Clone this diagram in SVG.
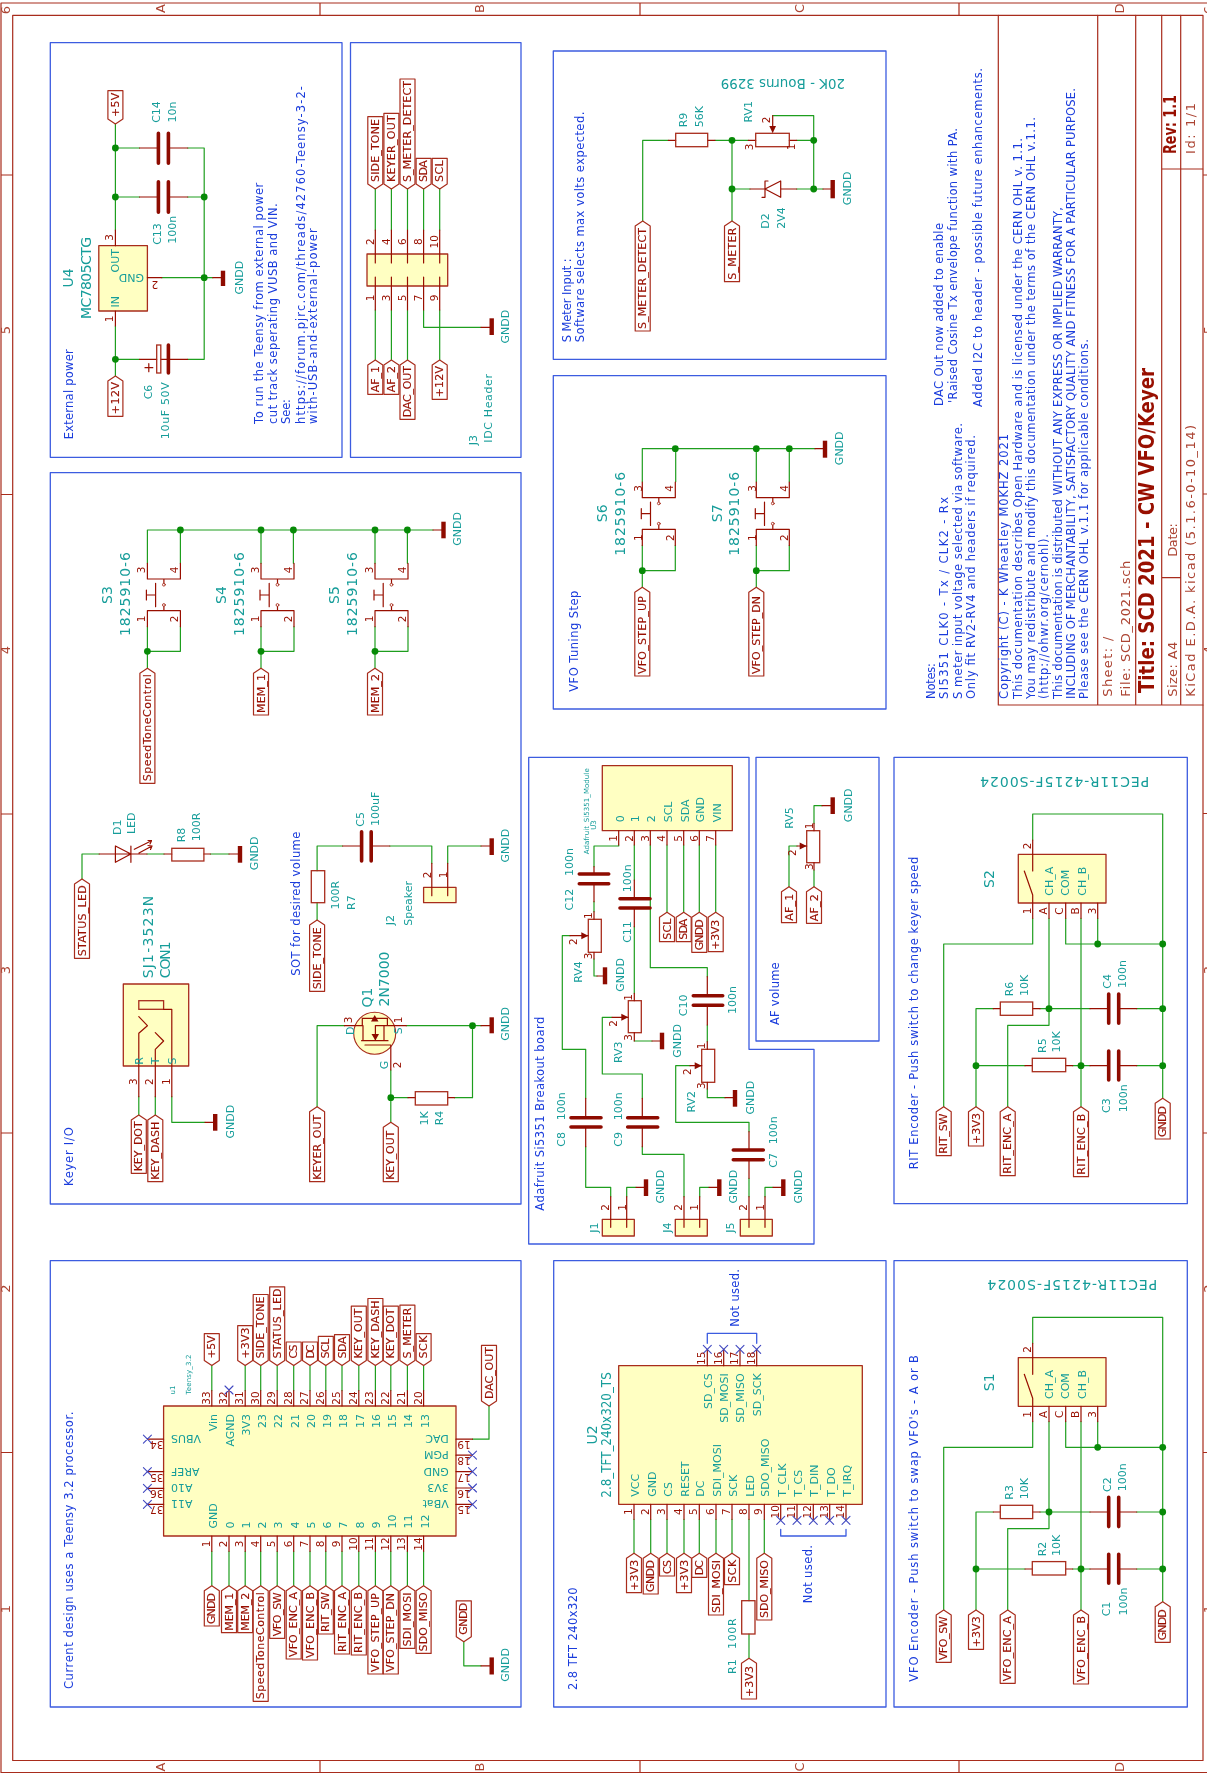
<svg xmlns="http://www.w3.org/2000/svg" xmlns:xlink="http://www.w3.org/1999/xlink" width="1207" height="1775" viewBox="0 0 1207 1775">
<style>
text{font-family:"DejaVu Sans","Liberation Sans",sans-serif}
.v{transform:rotate(-90deg)}
.v.l{transform:rotate(-90deg) translate(0,-.5px)}
.f{transform:rotate(180deg)}
.m{text-anchor:middle}
.e{text-anchor:end}
.t{fill:#169d9a;font-size:14px}
.n{fill:#169d9a;font-size:11px}
.s{fill:#169d9a;font-size:7px}
.b{fill:#1a3cdc;font-size:11.5px}
.d{fill:#980f00;font-size:10.5px}
.l{fill:#980f00;font-size:11px;stroke:#980f00;stroke-width:.15px}
.k{fill:#ac4433;font-size:13px}
.w,.p,.o,.L,.c,.bar,.fr,.bx,.nc,.ci{fill:none;stroke-linecap:round;stroke-linejoin:round}
.w{stroke:#1e9e1e;stroke-width:1.2}
.p{stroke:#980f00;stroke-width:1.2}
.o{stroke:#a82c1c;stroke-width:1.3;fill:#ffffc2}
.r{stroke:#a82c1c;stroke-width:1.3;fill:none}
.L{stroke:#a82c1c;stroke-width:1.2;fill:#fff}
.c{stroke:#8e0b00;stroke-width:3.6}
.bar{stroke:#8e0b00;stroke-width:4.4;stroke-linecap:butt}
.fr{stroke:#a82c1c;stroke-width:1.2}
.bx{stroke:#3c5ce0;stroke-width:1.3}
.nc{stroke:#4048c0;stroke-width:1.1}
.ci{stroke:#a82c1c;stroke-width:.9}
.j{fill:#078a07}
.a{fill:#8e0b00}
</style>
<defs>
<filter id="soft" x="0" y="0" width="1207" height="1775" filterUnits="userSpaceOnUse" color-interpolation-filters="sRGB"><feGaussianBlur stdDeviation="0.4"/></filter>
<path id="nc" class="nc" d="M-4-4L4 4M4-4L-4 4"/>
<g id="pb"><path class="p" d="M0 33.3V49H33V33.3M16.5 49v4M0 80.7H33M0 80.7V96.7M33 80.7V96.7M16.5 80.7v-4M8.2 53.3V76.7M8.2 65H-1M-1 60V70"/><circle class="ci" cx="16.5" cy="54.7" r="1.4"/><circle class="ci" cx="16.5" cy="75" r="1.4"/></g>
<g id="encsym"><rect class="o" x="1018.3" y="854.3" width="87.7" height="48.7"/><path class="p" d="M1032.7 840V871M1032.7 895V918.3M1024.3 871L1032.7 895M1049 903V918.3M1065.7 903V918.3M1081 903V918.3M1097.7 903V918.3M993.3 1008.7H1000.3M1032.7 1008.7H1040M1090 1008.7H1108.7M1118.7 1008.7H1136.7M1025 1065.7H1032.3M1065.7 1065.7H1072.7M1090 1065.7H1108.7M1118.7 1065.7H1136.7"/><rect class="r" x="1000.3" y="1002" width="32.4" height="13.3"/><rect class="r" x="1032.3" y="1058.3" width="33.4" height="13.4"/><path class="c" d="M1108.7 994V1023.3M1118.7 994V1023.3M1108.7 1051V1080M1118.7 1051V1080"/></g>
</defs>
<g id="sheet" filter="url(#soft)">

<g id="frame"><path class="fr" d="M1 3H1214V1772.5H1ZM12.7 15.3H1203V1760.5H12.7ZM320 3V15.3M640 3V15.3M959 3V15.3M320 1760.5V1772.5M640 1760.5V1772.5M959 1760.5V1772.5M1 175H12.7M1 494.5H12.7M1 814H12.7M1 1133H12.7M1 1452.5H12.7M1203 175H1214M1203 494H1214M1203 813.5H1214M1203 1133H1214M1203 1452.5H1214"/>
<text class="v k m" x="-8.5" y="165">A</text><text class="v k m" x="-8.5" y="484">B</text><text class="v k m" x="-8.5" y="804">C</text><text class="v k m" x="-8.5" y="1124">D</text>
<text class="v k m" x="-1767" y="165">A</text><text class="v k m" x="-1767" y="484">B</text><text class="v k m" x="-1767" y="804">C</text><text class="v k m" x="-1767" y="1124">D</text>
<text class="v k m" x="-10" y="10">6</text><text class="v k m" x="-330" y="10">5</text><text class="v k m" x="-650" y="10">4</text><text class="v k m" x="-970" y="10">3</text><text class="v k m" x="-1288.5" y="10">2</text><text class="v k m" x="-1609" y="10">1</text>
<text class="v k m" x="-10" y="1213">6</text><text class="v k m" x="-330" y="1213">5</text><text class="v k m" x="-650" y="1213">4</text><text class="v k m" x="-970" y="1213">3</text><text class="v k m" x="-1288.5" y="1213">2</text><text class="v k m" x="-1609" y="1213">1</text>
</g>

<g id="title-block"><path class="fr" d="M998.3 15.3V705H1203M1097.7 15.3V705M1135.7 15.3V705M1161.7 15.3V705M1180.7 15.3V705M1161.7 169H1202.7M1161.7 577.7H1180.7"/>
<text class="v" x="-154" y="1176" style="fill:#980f00;font-size:17px;font-weight:bold" textLength="59" lengthAdjust="spacingAndGlyphs">Rev: 1.1</text>
<text class="v k" x="-154" y="1195" textLength="51">Id: 1/1</text>
<text class="v k" x="-696.7" y="1112" textLength="60">Sheet: /</text>
<text class="v k" x="-696.7" y="1130" textLength="136">File: SCD_2021.sch</text>
<text class="v" x="-693" y="1154" style="fill:#980f00;font-size:22px;font-weight:bold" textLength="325" lengthAdjust="spacingAndGlyphs">Title: SCD 2021 - CW VFO/Keyer</text>
<text class="v k" x="-696.7" y="1176.7" textLength="55">Size: A4</text>
<text class="v k" x="-556.7" y="1176.7" textLength="33.7">Date:</text>
<text class="v k" x="-696.7" y="1195" textLength="271.7">KiCad E.D.A.  kicad (5.1.6-0-10_14)</text>
<text class="v b" x="-699" y="1008" textLength="265">Copyright (C) - K Wheatley M0KHZ 2021</text>
<text class="v b" x="-699" y="1021.7" textLength="561">This documentation describes Open Hardware and is licensed under the CERN OHL v. 1.1.</text>
<text class="v b" x="-699" y="1035" textLength="582">You may redistribute and modify this documentation under the terms of the CERN OHL v.1.1.</text>
<text class="v b" x="-699" y="1048" textLength="165">(http://ohwr.org/cernohl).</text>
<text class="v b" x="-699" y="1061.7" textLength="492">This documentation is distributed WITHOUT ANY EXPRESS OR IMPLIED WARRANTY,</text>
<text class="v b" x="-699" y="1075" textLength="611">INCLUDING OF MERCHANTABILITY, SATISFACTORY QUALITY AND FITNESS FOR A PARTICULAR PURPOSE.</text>
<text class="v b" x="-699" y="1088" textLength="360">Please see the CERN OHL v.1.1 for applicable conditions.</text>
</g>

<g id="notes">
<text class="v b" x="-699" y="935" textLength="36">Notes:</text>
<text class="v b" x="-699" y="948" textLength="202">SI5351 CLK0 - Tx / CLK2 - Rx</text>
<text class="v b" x="-699" y="961.7" textLength="276">S meter input voltage selected via software.</text>
<text class="v b" x="-699" y="975" textLength="264">Only fit RV2-RV4 and headers if required.</text>
<text class="v b" x="-406" y="943" textLength="183">DAC Out now added to enable</text>
<text class="v b" x="-403" y="956.7" textLength="275">'Raised Cosine Tx envelope function with PA.</text>
<text class="v b" x="-407" y="981.7" textLength="339">Added I2C to header - possible future enhancements.</text>
</g>

<g id="sheet-boxes"><path class="bx" d="M50.3 42.7H342V457.3H50.3ZM350.5 42.7H521V457.3H350.5ZM553.3 51H886V359.3H553.3ZM553.3 375.7H886V709H553.3ZM50.3 472.7H521V1204H50.3ZM528.7 757.3H749V1049.3H814V1244H528.7ZM756 757.3H879V1041H756ZM894 757.3H1187.3V1203.7H894ZM50.3 1260.7H521V1707H50.3ZM553.7 1260.7H886V1707H553.7ZM894 1260.7H1187.3V1707H894ZM780.7 1529.3V1536H846V1529.3M707.3 1343.3V1333.3H756.7V1343.3"/>
<text class="v b" x="-439.3" y="73.3" textLength="90">External power</text>
<text class="v b" x="-424" y="263.4" textLength="241.3">To run the Teensy from external power</text>
<text class="v b" x="-424" y="277" textLength="220.7">cut track seperating VUSB and VIN.</text>
<text class="v b" x="-424" y="290" textLength="25">See:</text>
<text class="v b" x="-424" y="304.8" textLength="338">https://forum.pjrc.com/threads/42760-Teensy-3-2-</text>
<text class="v b" x="-424" y="316.8" textLength="195.7">with-USB-and-external-power</text>
<text class="v b" x="-342.3" y="570.7" textLength="84">S Meter Input :</text>
<text class="v b" x="-342.3" y="584" textLength="230.6">Software selects max volts expected.</text>
<text class="v b" x="-691.7" y="577.7" textLength="101">VFO Tuning Step</text>
<text class="v b" x="-1186" y="73.3" textLength="58.7">Keyer I/O</text>
<text class="v b" x="-975.7" y="300.3" textLength="144">SOT for desired volume</text>
<text class="v b" x="-1210.7" y="544" textLength="194">Adafruit Si5351 Breakout board</text>
<text class="v b" x="-1025" y="779" textLength="62.7">AF volume</text>
<text class="v b" x="-1169.3" y="917.7" textLength="312.6">RIT Encoder - Push switch to change keyer speed</text>
<text class="v b" x="-1681.7" y="917.7" textLength="326.7">VFO Encoder - Push switch to swap VFO's - A or B</text>
<text class="v b" x="-1689" y="73.3" textLength="277.3">Current design uses a Teensy 3.2 processor.</text>
<text class="v b" x="-1690" y="576.7" textLength="102.7">2.8 TFT 240x320</text>
<text class="v b" x="-1603.3" y="812.3" textLength="58.3">Not used.</text>
<text class="v b" x="-1326.7" y="739" textLength="57.7">Not used.</text>
</g>

<g id="connectors">
<path class="w" d="M115.4 124V230M115.4 326V376M115.4 148H139.5M187.7 148H204.2V359.3H187.7M115.4 197H139.5M187.7 197H204.2M115.4 359.3H139.5M161.8 277.7H212.8
M375.3 189V230M391.4 189V230M407.5 189V230M423.6 189V230M439.7 189V230M375.3 310V360M391.4 310V360M407.5 310V360M439.7 310V360M423.6 310V327.3H481
M147.4 563.3V530H433M180.4 563.3V530M261 563.3V530M293.4 563.3V530M375 563.3V530M407.4 563.3V530M147.4 626.7V668.3M180.4 626.7V651.3H147.4M261 626.7V668.3M294 626.7V651.3H261M375 626.7V668.3M408 626.7V651.3H375
M99.2 854H82V879M147 854H164M210.4 854H229M342.6 846H317.1V870.7M317.1 902.7V920M389.8 846H431.8V863.3M447.7 863.3V846H481
M138.8 1096.7V1115M155.3 1096.7V1115M171.8 1096.7V1122.3H205M344.4 1025.7H317.1V1106.7M406.3 1025.7H481M472.5 1025.7V1097.7H454.5M408 1097.7H390.8M390.8 1070V1122.3
M642.7 221V140.3H668.3M715 140.3H748.3M796.7 140.3H813.7M772.7 115.7H813.7V189M732 140.3V221M732 189H750M796.7 189H823
M642.3 481.7V448.7H815M675.7 481.7V448.7M756.3 481.7V448.7M789.3 481.7V448.7M642.3 545.4V587.3M675.3 545.4V570.7H642.3M756.3 545.4V587.3M789.3 545.4V570.7H756.3
M618.7 845V846H594V866.7M594 901.7V911.7M594 959V976H597M570 935.7H562.3V1049.3H585.7V1098.3M585.7 1146.7V1187.3H610.7V1196.7M626.7 1196.7V1187.3H636M684 1196.7V1154.3H642.3V1146.7M642.3 1098.3V1074H602.3V1017.3H612M634.3 845V880M634.3 926.7V993.3M634.3 1041H652M699.7 1196.7V1187.3H709M650.3 845V967.7H707.3V976.7M707.3 1025V1041.7M707.3 1089V1097.7H725M690 1065.7H675.7V1122.3H749V1131.7M749 1178.3V1196.7M765 1196.7V1187.3H773M667 845V912.3M683.7 845V912.3M699.3 845V912.3M715.7 845V912.3
M814 823.3V805.7H822M814 870V886.7M797 846H789V886.7
M211.8 1365.5V1390.6M245.2 1365.5V1390.6M260.7 1365.5V1390.6M277.2 1365.5V1390.6M293.7 1365.5V1390.6M310 1365.5V1390.6M325.8 1365.5V1390.6M342 1365.5V1390.6M358.8 1365.5V1390.6M375.4 1365.5V1390.6M390.8 1365.5V1390.6M407.4 1365.5V1390.6M423.6 1365.5V1390.6
M211.8 1551.3V1585.8M229 1551.3V1585.8M245.2 1551.3V1585.8M260.7 1551.3V1585.8M277.2 1551.3V1585.8M293.7 1551.3V1585.8M310 1551.3V1585.8M325.8 1551.3V1585.8M342 1551.3V1585.8M358.8 1551.3V1585.8M375.4 1551.3V1585.8M390.8 1551.3V1585.8M407.4 1551.3V1585.8M423.6 1551.3V1585.8
M463.8 1641.7V1665.8H481M472.5 1439.2H489V1406
M634 1519.3V1553.3M650.7 1519.3V1553.3M667 1519.3V1553.3M684 1519.3V1553.3M699.3 1519.3V1553.3M716 1519.3V1553.3M732 1519.3V1553.3M764.3 1519.3V1553.3M749 1519.3V1600.7M749 1634V1658.3"/>
<path id="encw" class="w" d="M1032.7 840V814H1162.7V1098.3M1032.7 918.3V944H943.7V1106.7M1049 918.3V1025.3H1007.7V1106.7M1065.7 918.3V944H1162.7M1081 918.3V1106.7M1097.7 918.3V944M976 1106.7V1008.7H993.3M1040 1008.7H1090M1136.7 1008.7H1162.7M976 1065.7H1025M1072.7 1065.7H1090M1136.7 1065.7H1162.7"/>
<use href="#encw" xlink:href="#encw" y="503.3"/>
<g class="j" id="junctions">
<circle cx="115.4" cy="148" r="3.4"/><circle cx="115.4" cy="197" r="3.4"/><circle cx="204.2" cy="197" r="3.4"/><circle cx="204.2" cy="277.7" r="3.4"/><circle cx="115.4" cy="359.3" r="3.4"/>
<circle cx="180.4" cy="530" r="3.4"/><circle cx="261" cy="530" r="3.4"/><circle cx="293.4" cy="530" r="3.4"/><circle cx="375" cy="530" r="3.4"/><circle cx="407.4" cy="530" r="3.4"/><circle cx="147.4" cy="651.3" r="3.4"/><circle cx="261" cy="651.3" r="3.4"/><circle cx="375" cy="651.3" r="3.4"/>
<circle cx="472.5" cy="1025.7" r="3.4"/><circle cx="390.8" cy="1097.7" r="3.4"/>
<circle cx="732" cy="140.3" r="3.4"/><circle cx="813.7" cy="140.3" r="3.4"/><circle cx="732" cy="189" r="3.4"/><circle cx="813.7" cy="189" r="3.4"/>
<circle cx="675.3" cy="448.7" r="3.4"/><circle cx="756.3" cy="448.7" r="3.4"/><circle cx="789.3" cy="448.7" r="3.4"/><circle cx="642.3" cy="570.7" r="3.4"/><circle cx="756.3" cy="570.7" r="3.4"/>
<circle cx="1097.7" cy="944" r="3.4"/><circle cx="1162.7" cy="944" r="3.4"/><circle cx="1049" cy="1008.7" r="3.4"/><circle cx="1162.7" cy="1008.7" r="3.4"/><circle cx="976" cy="1065.7" r="3.4"/><circle cx="1081" cy="1065.7" r="3.4"/><circle cx="1162.7" cy="1065.7" r="3.4"/>
<circle cx="1097.7" cy="1447.3" r="3.4"/><circle cx="1162.7" cy="1447.3" r="3.4"/><circle cx="1049" cy="1512" r="3.4"/><circle cx="1162.7" cy="1512" r="3.4"/><circle cx="976" cy="1569" r="3.4"/><circle cx="1081" cy="1569" r="3.4"/><circle cx="1162.7" cy="1569" r="3.4"/>
</g>
</g>

<g id="U4"><rect class="o" x="98.8" y="245.7" width="48.6" height="65.3"/><path class="p" d="M115.4 230V245.7M115.4 311V326M147.4 277.7H161.8"/>
<text class="v n m" x="-260.7" y="118.8">OUT</text><text class="v n m" x="-301.7" y="118.8">IN</text><text class="f n m" x="-131.5" y="-273.5">GND</text>
<text class="v d m" x="-237.3" y="113">3</text><text class="v d m" x="-319" y="113">1</text><text class="f d m" x="-155" y="-281">2</text>
<text class="v t m" x="-278" y="73.3">U4</text><text class="v t m" x="-278" y="91" textLength="82">MC7805CTG</text></g>
<g id="GND-U4"><path class="p" d="M212.8 277.7H223"/><path class="bar" d="M223 270.7V286"/><text class="v n m" x="-277.7" y="242.8">GNDD</text></g>
<g id="C14"><path class="p" d="M139.5 148H158.4M168.4 148H187.7"/><path class="c" d="M158.4 133.3V163.3M168.4 133.3V163.3"/><text class="v n m" x="-112" y="160">C14</text><text class="v n m" x="-112" y="176.3">10n</text></g>
<g id="C13"><path class="p" d="M139.5 197H158.4M168.4 197H187.7"/><path class="c" d="M158.4 181.7V212.3M168.4 181.7V212.3"/><text class="v n m" x="-234" y="160.5">C13</text><text class="v n m" x="-229.7" y="176">100n</text></g>
<g id="C6"><path class="p" d="M139.5 359.3H156.7M160.8 359.3H187.7M148.8 363.7V371.7M145 367.7H152.8"/><rect class="r" x="156.7" y="345" width="4.1" height="28"/><path class="c" d="M168.4 345V373"/><text class="v n m" x="-392" y="151.5">C6</text><text class="v n m" x="-410.7" y="168.7" textLength="57">10uF 50V</text></g>
<g id="lbl-5V"><path class="L" d="M107.9 90.7h15V119l-7.5 5l-7.5-5z"/><text class="v l" x="-117" y="119.4" textLength="24.3">+5V</text></g>
<g id="lbl-12V"><path class="L" d="M107.9 416.3h15V381l-7.5-5l-7.5 5z"/><text class="v l" x="-414.3" y="119.4" textLength="32.3">+12V</text></g>

<g id="J3"><rect class="o" x="367" y="254" width="80.7" height="32"/><path class="p" d="M375.3 230V263M391.4 230V263M407.5 230V263M423.6 230V263M439.7 230V263M375.3 277V310M391.4 277V310M407.5 277V310M423.6 277V310M439.7 277V310M481 327.3H491.7"/><path class="bar" d="M491.7 318.3V335"/>
<text class="v d m" x="-241.7" y="373.6">2</text><text class="v d m" x="-241.7" y="389.7">4</text><text class="v d m" x="-241.7" y="405.8">6</text><text class="v d m" x="-241.7" y="421.9">8</text><text class="v d m" x="-241.7" y="438">10</text>
<text class="v d m" x="-298" y="373.6">1</text><text class="v d m" x="-298" y="389.7">3</text><text class="v d m" x="-298" y="405.8">5</text><text class="v d m" x="-298" y="421.9">7</text><text class="v d m" x="-298" y="438">9</text>
<text class="v n m" x="-440" y="477">J3</text><text class="v n" x="-442.7" y="492.4" textLength="68.7">IDC Header</text><text class="v n m" x="-326.7" y="509">GNDD</text>
<path class="L" d="M367.8 116.7h15V184l-7.5 5l-7.5-5z"/><text class="v l" x="-182" y="379.3" textLength="63">SIDE_TONE</text>
<path class="L" d="M383.9 113.3h15V184l-7.5 5l-7.5-5z"/><text class="v l" x="-182" y="395.4" textLength="66.7">KEYER_OUT</text>
<path class="L" d="M400 79h15V184l-7.5 5l-7.5-5z"/><text class="v l" x="-182" y="411.5" textLength="101">S_METER_DETECT</text>
<path class="L" d="M416.1 158.3h15V184l-7.5 5l-7.5-5z"/><text class="v l" x="-182" y="427.6" textLength="21.7">SDA</text>
<path class="L" d="M432.2 158.3h15V184l-7.5 5l-7.5-5z"/><text class="v l" x="-182" y="443.7" textLength="21.7">SCL</text>
<path class="L" d="M367.8 394.3h15V365l-7.5-5l-7.5 5z"/><text class="v l" x="-392.3" y="379.3" textLength="26.3">AF_1</text>
<path class="L" d="M383.9 394.3h15V365l-7.5-5l-7.5 5z"/><text class="v l" x="-392.3" y="395.4" textLength="26.3">AF_2</text>
<path class="L" d="M400 419.3h15V365l-7.5-5l-7.5 5z"/><text class="v l" x="-417.3" y="411.5" textLength="51.3">DAC_OUT</text>
<path class="L" d="M432.2 399.3h15V365l-7.5-5l-7.5 5z"/><text class="v l" x="-397.3" y="443.7" textLength="31.3">+12V</text></g>

<g id="S3"><use href="#pb" xlink:href="#pb" x="147.4" y="530"/><text class="v d m" x="-570" y="145">3</text><text class="v d m" x="-570" y="178">4</text><text class="v d m" x="-619" y="145">1</text><text class="v d m" x="-619" y="178">2</text><text class="v t m" x="-595" y="112">S3</text><text class="v t m" x="-594" y="130" textLength="84">1825910-6</text>
<path class="L" d="M139.9 783.3h15V673.3l-7.5-5l-7.5 5z"/><text class="v l" x="-781.3" y="151.4" textLength="107">SpeedToneControl</text></g>
<g id="S4"><use href="#pb" xlink:href="#pb" x="261" y="530"/><text class="v d m" x="-570" y="258.6">3</text><text class="v d m" x="-570" y="291.6">4</text><text class="v d m" x="-619" y="258.6">1</text><text class="v d m" x="-619" y="291.6">2</text><text class="v t m" x="-595" y="225.5">S4</text><text class="v t m" x="-594" y="243.8" textLength="84">1825910-6</text>
<path class="L" d="M253.5 715h15V673.3l-7.5-5l-7.5 5z"/><text class="v l" x="-713" y="265" textLength="39">MEM_1</text></g>
<g id="S5"><use href="#pb" xlink:href="#pb" x="375" y="530"/><text class="v d m" x="-570" y="372.6">3</text><text class="v d m" x="-570" y="405.6">4</text><text class="v d m" x="-619" y="372.6">1</text><text class="v d m" x="-619" y="405.6">2</text><text class="v t m" x="-595" y="339">S5</text><text class="v t m" x="-594" y="357.4" textLength="84">1825910-6</text>
<path class="L" d="M367.5 715h15V673.3l-7.5-5l-7.5 5z"/><text class="v l" x="-713" y="379" textLength="39">MEM_2</text></g>
<g id="GND-S"><path class="p" d="M433 530H443.5"/><path class="bar" d="M443.5 521.7V538.3"/><text class="v n m" x="-529" y="460.7">GNDD</text></g>

<g id="D1"><path class="p" d="M99.2 854H147M130.9 846V862.3M115.4 846V862.3L130.9 854L115.4 846M134.3 849.3L151.5 840.7M148 840.5L151.5 840.7L150 844M139 853L152 846M148 845.5L152 846L150.5 849.5"/><text class="v n m" x="-827.3" y="121.2">D1</text><text class="v n m" x="-823.3" y="135">LED</text><path class="L" d="M74.5 958.3h15V884l-7.5-5l-7.5 5z"/><text class="v l" x="-956.3" y="86" textLength="71">STATUS_LED</text></g>
<g id="R8"><path class="p" d="M164 854H171.8M203.9 854H210.4"/><rect class="r" x="171.8" y="848.3" width="32.1" height="12.7"/><text class="v n m" x="-835" y="185">R8</text><text class="v n m" x="-827" y="200.4">100R</text></g>
<g id="GND-D1"><path class="p" d="M229 854H240"/><path class="bar" d="M240 846V862.7"/><text class="v n m" x="-853.3" y="258.3">GNDD</text></g>

<g id="CON1"><rect class="o" x="123.3" y="984" width="65.4" height="82"/><rect class="r" x="138.8" y="1000.7" width="24.8" height="8.6"/><path class="p" d="M163.6 1009.3H171.8V1096.7M138.8 1016.7L147.4 1025.7L138.8 1033.3V1096.7M155.3 1032.7L163.6 1041L155.3 1049.3V1096.7M205 1122.3H215.2"/><path class="bar" d="M215.2 1114V1130.7"/>
<text class="v n m" x="-1061" y="142.6">R</text><text class="v n m" x="-1061" y="158.7">T</text><text class="v n m" x="-1061" y="175.6">S</text><text class="v d m" x="-1081.7" y="137">3</text><text class="v d m" x="-1081.7" y="153">2</text><text class="v d m" x="-1081.7" y="170">1</text>
<text class="v t" x="-978.3" y="152.5" textLength="82.6">SJ1-3523N</text><text class="v t" x="-978.3" y="169.8" textLength="37">CON1</text><text class="v n m" x="-1121.7" y="233.5">GNDD</text>
<path class="L" d="M131.3 1173.3h15V1120l-7.5-5l-7.5 5z"/><text class="v l" x="-1171.3" y="142.8" textLength="50">KEY_DOT</text>
<path class="L" d="M147.8 1181.7h15V1120l-7.5-5l-7.5 5z"/><text class="v l" x="-1179.7" y="159.3" textLength="58">KEY_DASH</text></g>

<g id="C5"><path class="p" d="M342.6 846H361.6M371.2 846H389.8"/><path class="c" d="M361.6 831.7V861M371.2 831.7V861"/><text class="v n m" x="-819.3" y="364.3">C5</text><text class="v n m" x="-808.8" y="378.8">100uF</text></g>
<g id="R7"><rect class="r" x="311.3" y="870.7" width="13.4" height="32"/><text class="v n m" x="-895.3" y="338.5">100R</text><text class="v n m" x="-902.7" y="354.7">R7</text><path class="L" d="M309.6 991.3h15V925l-7.5-5l-7.5 5z"/><text class="v l" x="-989.3" y="321.1" textLength="62">SIDE_TONE</text></g>
<g id="J2"><rect class="o" x="423.6" y="887.3" width="32.4" height="15.4"/><path class="p" d="M431.8 863.3V895.7M447.7 863.3V895.7M481 846H491.7"/><path class="bar" d="M491.7 838.3V855"/><text class="v d m" x="-875" y="430.5">2</text><text class="v d m" x="-875" y="446.6">1</text><text class="v n m" x="-920" y="394.3">J2</text><text class="v n m" x="-903.3" y="411.5">Speaker</text><text class="v n m" x="-845.7" y="509">GNDD</text></g>
<g id="Q1"><circle cx="374.7" cy="1033.3" r="21" fill="#ffffc2" stroke="#a82c1c" stroke-width="1.1"/><path class="p" d="M344.4 1025.7H363V1040.7M361.6 1040.7H388M384 1040.7V1025.7H406.3M362.3 1025.7V1018.3H387.4V1025.7M375.4 1025.7H387.4M375.4 1025.7V1040.7M365 1045H390.8V1070M390.8 1045V1070"/><path class="a" d="M371 1021.5L378.5 1021.5L374.7 1015ZM371.5 1034H379L375.4 1040.5Z"/>
<text class="v n m" x="-1065" y="388.4">G</text><text class="v d m" x="-1065" y="400.5">2</text><text class="v d m" x="-1020" y="352">3</text><text class="v n m" x="-1030.7" y="353.6">D</text><text class="v d m" x="-1020" y="401.5">1</text><text class="v n m" x="-1030.7" y="401.5">S</text>
<text class="v t m" x="-997.5" y="372">Q1</text><text class="v t m" x="-979" y="389" textLength="55">2N7000</text>
<path class="p" d="M481 1025.7H491.7"/><path class="bar" d="M491.7 1017.3V1033.3"/><text class="v n m" x="-1024" y="509">GNDD</text>
<path class="L" d="M309.6 1181.7h15V1111.7l-7.5-5l-7.5 5z"/><text class="v l" x="-1179.7" y="321.1" textLength="65">KEYER_OUT</text>
<path class="L" d="M383.3 1181.7h15V1127.3l-7.5-5l-7.5 5z"/><text class="v l" x="-1179.7" y="394.8" textLength="49">KEY_OUT</text></g>
<g id="R4"><path class="p" d="M408 1097.7H415.3M447.7 1097.7H454.5"/><rect class="r" x="415.3" y="1091.7" width="32.4" height="13.3"/><text class="v n m" x="-1118.3" y="428">1K</text><text class="v n m" x="-1118" y="443">R4</text></g>

<g id="R9"><path class="p" d="M668.3 140.3H675.7M707.7 140.3H715"/><rect class="r" x="675.7" y="133.3" width="32" height="13.4"/><text class="v n m" x="-120" y="687.3">R9</text><text class="v n m" x="-116.7" y="702.7">56K</text></g>
<g id="RV1"><path class="p" d="M748.3 140.3H755.7M789.3 140.3H796.7M772.7 115.7V128"/><rect class="r" x="755.7" y="133.3" width="33.6" height="13.4"/><path class="a" d="M769.3 126H776L772.7 133.3Z"/><text class="v n m" x="-111.7" y="751.7">RV1</text><text class="v d m" x="-120" y="770">2</text><text class="v d m" x="-147" y="753">3</text><text class="v d m" x="-147" y="795">1</text>
<text class="f t" x="-845" y="-79.3" textLength="124.3" lengthAdjust="spacingAndGlyphs">20K - Bourns 3299</text></g>
<g id="D2"><path class="p" d="M750 189H765M780.7 189H796.7M780.7 181V197.3L765 189ZM765 181V197.3M765 181H768M765 197.3H762M823 189H832.7"/><path class="bar" d="M832.7 180V198.3"/><text class="v n m" x="-221" y="769.3">D2</text><text class="v n m" x="-218" y="785">2V4</text><text class="v n m" x="-188.3" y="851">GNDD</text>
<path class="L" d="M635.2 331h15V226l-7.5-5l-7.5 5z"/><text class="v l" x="-329" y="646.7" textLength="101">S_METER_DETECT</text>
<path class="L" d="M724.5 281.7h15V226l-7.5-5l-7.5 5z"/><text class="v l" x="-279.7" y="736" textLength="52">S_METER</text></g>

<g id="S6"><use href="#pb" xlink:href="#pb" x="642.3" y="448.7"/><text class="v d m" x="-488.3" y="641.7">3</text><text class="v d m" x="-488.3" y="673.3">4</text><text class="v d m" x="-537.7" y="641.7">1</text><text class="v d m" x="-537.7" y="674">2</text><text class="v t m" x="-513.3" y="607.3">S6</text><text class="v t m" x="-513.8" y="625" textLength="84">1825910-6</text>
<path class="L" d="M634.8 676h15V592.3l-7.5-5l-7.5 5z"/><text class="v l" x="-674" y="646.3" textLength="78">VFO_STEP_UP</text></g>
<g id="S7"><use href="#pb" xlink:href="#pb" x="756.3" y="448.7"/><text class="v d m" x="-488.3" y="755.7">3</text><text class="v d m" x="-488.3" y="788">4</text><text class="v d m" x="-537.7" y="755.7">1</text><text class="v d m" x="-537.7" y="788">2</text><text class="v t m" x="-513.3" y="721.7">S7</text><text class="v t m" x="-513.8" y="739.3" textLength="84">1825910-6</text>
<path class="L" d="M748.8 676h15V592.3l-7.5-5l-7.5 5z"/><text class="v l" x="-674" y="760.3" textLength="78">VFO_STEP_DN</text></g>
<g id="GND-S6"><path class="p" d="M815 448.7H825"/><path class="bar" d="M825 440.7V457.7"/><text class="v n m" x="-448.3" y="842.7">GNDD</text></g>

<g id="U3"><rect class="o" x="602.3" y="765.7" width="130" height="65"/><path class="p" d="M618.7 830.7V845M634.3 830.7V845M650.3 830.7V845M667 830.7V845M683.7 830.7V845M699.3 830.7V845M715.7 830.7V845"/>
<text class="v n" x="-822.3" y="623.7">0</text><text class="v n" x="-822.3" y="639.3">1</text><text class="v n" x="-822.3" y="655.3">2</text><text class="v n" x="-822.3" y="672">SCL</text><text class="v n" x="-822.3" y="688.7">SDA</text><text class="v n" x="-822.3" y="704.3">GND</text><text class="v n" x="-822.3" y="720.7">VIN</text>
<text class="v d m" x="-838.3" y="617">1</text><text class="v d m" x="-838.3" y="632.6">2</text><text class="v d m" x="-838.3" y="648.6">3</text><text class="v d m" x="-838.3" y="665.3">4</text><text class="v d m" x="-838.3" y="682">5</text><text class="v d m" x="-838.3" y="697.6">6</text><text class="v d m" x="-838.3" y="714">7</text>
<text class="v s" x="-854.3" y="589" textLength="86">Adafruit_Si5351_Module</text><text class="v s m" x="-825" y="596">U3</text>
<path class="L" d="M659.5 941.7h15V917.3l-7.5-5l-7.5 5z"/><text class="v l" x="-939.7" y="671" textLength="21">SCL</text>
<path class="L" d="M676.2 941.7h15V917.3l-7.5-5l-7.5 5z"/><text class="v l" x="-939.7" y="687.7" textLength="21">SDA</text>
<path class="L" d="M691.8 952.3h15V917.3l-7.5-5l-7.5 5z"/><text class="v l" x="-950.3" y="703.3" textLength="31">GNDD</text>
<path class="L" d="M708.2 951.7h15V917.3l-7.5-5l-7.5 5z"/><text class="v l" x="-949.7" y="719.7" textLength="30">+3V3</text></g>
<g id="C12"><path class="p" d="M594 866.7V874M594 883.7V901.7"/><path class="c" d="M579.3 874H608.7M579.3 883.7H608.7"/><text class="v n m" x="-899.7" y="573">C12</text><text class="v n m" x="-862" y="573">100n</text></g>
<g id="RV4"><rect class="r" x="588.3" y="919.3" width="13" height="33"/><path class="p" d="M594 911.7V919.3M594 952.3V959M570 935.7H588M597 976H605"/><path class="a" d="M588.3 935.7L581.3 932.2V939.2Z"/><path class="bar" d="M605 967.3V984.3"/><text class="v n m" x="-972" y="581.7">RV4</text><text class="v d m" x="-941.7" y="576.7">2</text><text class="v d m" x="-915.7" y="591.7">1</text><text class="v d m" x="-956" y="591.7">3</text><text class="v n m" x="-975" y="624">GNDD</text></g>
<g id="C11"><path class="p" d="M634.3 880V898.7M634.3 908V926.7"/><path class="c" d="M620 898.7H650M620 908H650"/><text class="v n m" x="-932" y="630.7">C11</text><text class="v n m" x="-878.3" y="630.7">100n</text></g>
<g id="RV3"><rect class="r" x="628.3" y="1000.7" width="13" height="32"/><path class="p" d="M634.3 993.3V1000.7M634.3 1032.7V1041M612 1017.3H628M652 1041H662"/><path class="a" d="M628.3 1017.3L621.3 1013.8V1020.8Z"/><path class="bar" d="M662 1032.7V1049.3"/><text class="v n m" x="-1052.3" y="621.7">RV3</text><text class="v d m" x="-1023.3" y="616.7">2</text><text class="v d m" x="-997.3" y="631.7">1</text><text class="v d m" x="-1037.3" y="631.7">3</text><text class="v n m" x="-1041" y="680.7">GNDD</text></g>
<g id="C10"><path class="p" d="M707.3 976.7V995.7M707.3 1005.3V1025"/><path class="c" d="M693.3 995.7H722.7M693.3 1005.3H722.7"/><text class="v n m" x="-1005.3" y="686.7">C10</text><text class="v n m" x="-1000" y="736">100n</text></g>
<g id="RV2"><rect class="r" x="701.7" y="1049.3" width="13" height="33"/><path class="p" d="M707.3 1041.7V1049.3M707.3 1082.3V1089M690 1065.7H701.7M725 1097.7H735"/><path class="a" d="M701.7 1065.7L694.7 1062.2V1069.2Z"/><path class="bar" d="M735 1090V1106.7"/><text class="v n m" x="-1101.7" y="695">RV2</text><text class="v d m" x="-1071.7" y="690.7">2</text><text class="v d m" x="-1046" y="705">1</text><text class="v d m" x="-1085.7" y="705">3</text><text class="v n m" x="-1097.7" y="754.3">GNDD</text></g>
<g id="C8"><path class="p" d="M585.7 1098.3V1117.7M585.7 1127V1146.7"/><path class="c" d="M571 1117.7H601M571 1127H601"/><text class="v n m" x="-1139.3" y="565">C8</text><text class="v n m" x="-1106.3" y="565">100n</text></g>
<g id="C9"><path class="p" d="M642.3 1098.3V1117.7M642.3 1127V1146.7"/><path class="c" d="M627.7 1117.7H657.7M627.7 1127H657.7"/><text class="v n m" x="-1139.3" y="621.7">C9</text><text class="v n m" x="-1106.3" y="621.7">100n</text></g>
<g id="C7"><path class="p" d="M749 1131.7V1150M749 1159.7V1178.3"/><path class="c" d="M733.3 1150H763.3M733.3 1159.7H763.3"/><text class="v n m" x="-1160.3" y="777.3">C7</text><text class="v n m" x="-1130.3" y="777.3">100n</text></g>
<g id="J1"><rect class="o" x="602.3" y="1219.3" width="32" height="16.7"/><path class="p" d="M610.7 1196.7V1227.3M626.7 1196.7V1227.3M636 1187.3H646"/><path class="bar" d="M646 1179.3V1196"/><text class="v d m" x="-1207.3" y="609.3">2</text><text class="v d m" x="-1207.3" y="626">1</text><text class="v n m" x="-1227.7" y="598.3">J1</text><text class="v n m" x="-1186.7" y="664.3">GNDD</text></g>
<g id="J4"><rect class="o" x="675.3" y="1219.3" width="32" height="16.7"/><path class="p" d="M684 1196.7V1227.3M699.7 1196.7V1227.3M709 1187.3H719.3"/><path class="bar" d="M719.3 1179.3V1196"/><text class="v d m" x="-1207.3" y="681.7">2</text><text class="v d m" x="-1207.3" y="698.3">1</text><text class="v n m" x="-1227.7" y="670.7">J4</text><text class="v n m" x="-1186.7" y="737.3">GNDD</text></g>
<g id="J5"><rect class="o" x="740.3" y="1219.3" width="32" height="16.7"/><path class="p" d="M749 1196.7V1227.3M765 1196.7V1227.3M773 1187.3H783.3"/><path class="bar" d="M783.3 1179.3V1196"/><text class="v d m" x="-1207.3" y="746.7">2</text><text class="v d m" x="-1207.3" y="764">1</text><text class="v n m" x="-1227.7" y="734">J5</text><text class="v n m" x="-1186.7" y="802.3">GNDD</text></g>

<g id="RV5"><rect class="r" x="806.7" y="830.7" width="13" height="32"/><path class="p" d="M814 823.3V830.7M814 862.7V870M797 846H806.7M822 805.7H832.7"/><path class="a" d="M806.7 846L799.7 842.5V849.5Z"/><path class="bar" d="M832.7 797.3V814"/><text class="v d m" x="-826" y="812.7">1</text><text class="v d m" x="-866.7" y="812.7">3</text><text class="v d m" x="-852.7" y="796">2</text><text class="v n m" x="-818" y="793.3">RV5</text><text class="v n m" x="-805.3" y="851.7">GNDD</text>
<path class="L" d="M781.5 922.7h15V891.7l-7.5-5l-7.5 5z"/><text class="v l" x="-920.7" y="793" textLength="27">AF_1</text>
<path class="L" d="M806.5 923.3h15V891.7l-7.5-5l-7.5 5z"/><text class="v l" x="-921.3" y="818" textLength="27">AF_2</text></g>

<g id="U1"><rect class="o" x="163.6" y="1406" width="292.4" height="130"/>
<path class="p" d="M211.8 1390.6V1406M229 1390V1406M245.2 1390.6V1406M260.7 1390.6V1406M277.2 1390.6V1406M293.7 1390.6V1406M310 1390.6V1406M325.8 1390.6V1406M342 1390.6V1406M358.8 1390.6V1406M375.4 1390.6V1406M390.8 1390.6V1406M407.4 1390.6V1406M423.6 1390.6V1406
M211.8 1536V1551.3M229 1536V1551.3M245.2 1536V1551.3M260.7 1536V1551.3M277.2 1536V1551.3M293.7 1536V1551.3M310 1536V1551.3M325.8 1536V1551.3M342 1536V1551.3M358.8 1536V1551.3M375.4 1536V1551.3M390.8 1536V1551.3M407.4 1536V1551.3M423.6 1536V1551.3
M147.4 1439.2H163.6M147.4 1471.6H163.6M147.4 1488.4H163.6M147.4 1504.4H163.6M456 1439.2H472.5M456 1455.2H472.5M456 1471.6H472.5M456 1488H472.5M456 1504.4H472.5"/>
<use href="#nc" xlink:href="#nc" x="229" y="1390"/><use href="#nc" xlink:href="#nc" x="147.4" y="1439.2"/><use href="#nc" xlink:href="#nc" x="147.4" y="1471.6"/><use href="#nc" xlink:href="#nc" x="147.4" y="1488.4"/><use href="#nc" xlink:href="#nc" x="147.4" y="1504.4"/><use href="#nc" xlink:href="#nc" x="472.5" y="1455.2"/><use href="#nc" xlink:href="#nc" x="472.5" y="1471.6"/><use href="#nc" xlink:href="#nc" x="472.5" y="1488"/><use href="#nc" xlink:href="#nc" x="472.5" y="1504.4"/>
<g><text class="v n e" x="-1414" y="216.8">Vin</text><text class="v n e" x="-1414" y="234">AGND</text><text class="v n e" x="-1414" y="250.2">3V3</text><text class="v n e" x="-1414" y="265.7">23</text><text class="v n e" x="-1414" y="282.2">22</text><text class="v n e" x="-1414" y="298.7">21</text><text class="v n e" x="-1414" y="315">20</text><text class="v n e" x="-1414" y="330.8">19</text><text class="v n e" x="-1414" y="347">18</text><text class="v n e" x="-1414" y="363.8">17</text><text class="v n e" x="-1414" y="380.4">16</text><text class="v n e" x="-1414" y="395.8">15</text><text class="v n e" x="-1414" y="412.4">14</text><text class="v n e" x="-1414" y="428.6">13</text></g>
<g><text class="v n" x="-1528.5" y="216.8">GND</text><text class="v n" x="-1528.5" y="234">0</text><text class="v n" x="-1528.5" y="250.2">1</text><text class="v n" x="-1528.5" y="265.7">2</text><text class="v n" x="-1528.5" y="282.2">3</text><text class="v n" x="-1528.5" y="298.7">4</text><text class="v n" x="-1528.5" y="315">5</text><text class="v n" x="-1528.5" y="330.8">6</text><text class="v n" x="-1528.5" y="347">7</text><text class="v n" x="-1528.5" y="363.8">8</text><text class="v n" x="-1528.5" y="380.4">9</text><text class="v n" x="-1528.5" y="395.8">10</text><text class="v n" x="-1528.5" y="412.4">11</text><text class="v n" x="-1528.5" y="428.6">12</text></g>
<g><text class="v d m" x="-1398" y="210">33</text><text class="v d m" x="-1398" y="227">32</text><text class="v d m" x="-1398" y="243.2">31</text><text class="v d m" x="-1398" y="258.7">30</text><text class="v d m" x="-1398" y="275.2">29</text><text class="v d m" x="-1398" y="291.7">28</text><text class="v d m" x="-1398" y="308">27</text><text class="v d m" x="-1398" y="323.8">26</text><text class="v d m" x="-1398" y="340">25</text><text class="v d m" x="-1398" y="356.8">24</text><text class="v d m" x="-1398" y="373.4">23</text><text class="v d m" x="-1398" y="388.8">22</text><text class="v d m" x="-1398" y="405.4">21</text><text class="v d m" x="-1398" y="421.6">20</text></g>
<g><text class="v d m" x="-1544" y="210">1</text><text class="v d m" x="-1544" y="227">2</text><text class="v d m" x="-1544" y="243.2">3</text><text class="v d m" x="-1544" y="258.7">4</text><text class="v d m" x="-1544" y="275.2">5</text><text class="v d m" x="-1544" y="291.7">6</text><text class="v d m" x="-1544" y="308">7</text><text class="v d m" x="-1544" y="323.8">8</text><text class="v d m" x="-1544" y="340">9</text><text class="v d m" x="-1544" y="356.8">10</text><text class="v d m" x="-1544" y="373.4">11</text><text class="v d m" x="-1544" y="388.8">12</text><text class="v d m" x="-1544" y="405.4">13</text><text class="v d m" x="-1544" y="421.6">14</text></g>
<text class="f n e" x="-171" y="-1435.2">VBUS</text><text class="f n e" x="-171" y="-1467.6">AREF</text><text class="f n e" x="-171" y="-1484.4">A10</text><text class="f n e" x="-171" y="-1500.4">A11</text>
<text class="f n" x="-448.7" y="-1435.2">DAC</text><text class="f n" x="-448.7" y="-1451.2">PGM</text><text class="f n" x="-448.7" y="-1467.6">GND</text><text class="f n" x="-448.7" y="-1484">3V3</text><text class="f n" x="-448.7" y="-1500.4">VBat</text>
<text class="f d m" x="-156.7" y="-1441.2">34</text><text class="f d m" x="-156.7" y="-1473.6">35</text><text class="f d m" x="-156.7" y="-1490.4">36</text><text class="f d m" x="-156.7" y="-1506.4">37</text>
<text class="f d m" x="-464" y="-1441.2">19</text><text class="f d m" x="-464" y="-1457.2">18</text><text class="f d m" x="-464" y="-1473.6">17</text><text class="f d m" x="-464" y="-1490">16</text><text class="f d m" x="-464" y="-1506.4">15</text>
<text class="v s m" x="-1390" y="175">u1</text><text class="v s m" x="-1374.5" y="191" textLength="40">Teensy_3.2</text>
</g>
<g id="U1-labels-top">
<path class="L" d="M204.3 1333.7h15V1360.5l-7.5 5l-7.5-5z"/><text class="v l" x="-1358.5" y="215.8" textLength="23">+5V</text>
<path class="L" d="M237.7 1325.7h15V1360.5l-7.5 5l-7.5-5z"/><text class="v l" x="-1358.5" y="249.2" textLength="31">+3V3</text>
<path class="L" d="M253.2 1294.5h15V1360.5l-7.5 5l-7.5-5z"/><text class="v l" x="-1358.5" y="264.7" textLength="62">SIDE_TONE</text>
<path class="L" d="M269.7 1286.8h15V1360.5l-7.5 5l-7.5-5z"/><text class="v l" x="-1358.5" y="281.2" textLength="70">STATUS_LED</text>
<path class="L" d="M286.2 1342h15V1360.5l-7.5 5l-7.5-5z"/><text class="v l" x="-1358.5" y="297.7" textLength="14">CS</text>
<path class="L" d="M302.5 1342h15V1360.5l-7.5 5l-7.5-5z"/><text class="v l" x="-1358.5" y="314" textLength="14">DC</text>
<path class="L" d="M318.3 1336.4h15V1360.5l-7.5 5l-7.5-5z"/><text class="v l" x="-1358.5" y="329.8" textLength="20">SCL</text>
<path class="L" d="M334.5 1334.7h15V1360.5l-7.5 5l-7.5-5z"/><text class="v l" x="-1358.5" y="346" textLength="22">SDA</text>
<path class="L" d="M351.3 1306.2h15V1360.5l-7.5 5l-7.5-5z"/><text class="v l" x="-1358.5" y="362.8" textLength="50">KEY_OUT</text>
<path class="L" d="M367.9 1298.5h15V1360.5l-7.5 5l-7.5-5z"/><text class="v l" x="-1358.5" y="379.4" textLength="58">KEY_DASH</text>
<path class="L" d="M383.3 1306.2h15V1360.5l-7.5 5l-7.5-5z"/><text class="v l" x="-1358.5" y="394.8" textLength="50">KEY_DOT</text>
<path class="L" d="M399.9 1305.2h15V1360.5l-7.5 5l-7.5-5z"/><text class="v l" x="-1358.5" y="411.4" textLength="51">S_METER</text>
<path class="L" d="M416.1 1333.7h15V1360.5l-7.5 5l-7.5-5z"/><text class="v l" x="-1358.5" y="427.6" textLength="23">SCK</text>
<path class="L" d="M481.5 1345.4h15V1401l-7.5 5l-7.5-5z"/><text class="v l" x="-1399" y="493" textLength="52">DAC_OUT</text>
<path class="L" d="M456.3 1600.8h15V1636.7l-7.5 5l-7.5-5z"/><text class="v l" x="-1634.7" y="467.8" textLength="32">GNDD</text>
</g>
<g id="U1-labels-bottom">
<path class="L" d="M204.3 1626h15V1590.8l-7.5-5l-7.5 5z"/><text class="v l" x="-1624" y="215.8" textLength="31">GNDD</text>
<path class="L" d="M221.5 1632.7h15V1590.8l-7.5-5l-7.5 5z"/><text class="v l" x="-1630.7" y="233" textLength="38">MEM_1</text>
<path class="L" d="M237.7 1632.7h15V1590.8l-7.5-5l-7.5 5z"/><text class="v l" x="-1630.7" y="249.2" textLength="38">MEM_2</text>
<path class="L" d="M253.2 1701.3h15V1590.8l-7.5-5l-7.5 5z"/><text class="v l" x="-1699.3" y="264.7" textLength="107">SpeedToneControl</text>
<path class="L" d="M269.7 1638.3h15V1590.8l-7.5-5l-7.5 5z"/><text class="v l" x="-1636.3" y="281.2" textLength="44">VFO_SW</text>
<path class="L" d="M286.2 1659h15V1590.8l-7.5-5l-7.5 5z"/><text class="v l" x="-1657" y="297.7" textLength="65">VFO_ENC_A</text>
<path class="L" d="M302.5 1660h15V1590.8l-7.5-5l-7.5 5z"/><text class="v l" x="-1658" y="314" textLength="66">VFO_ENC_B</text>
<path class="L" d="M318.3 1634h15V1590.8l-7.5-5l-7.5 5z"/><text class="v l" x="-1632" y="329.8" textLength="40">RIT_SW</text>
<path class="L" d="M334.5 1654h15V1590.8l-7.5-5l-7.5 5z"/><text class="v l" x="-1652" y="346" textLength="60">RIT_ENC_A</text>
<path class="L" d="M351.3 1655h15V1590.8l-7.5-5l-7.5 5z"/><text class="v l" x="-1653" y="362.8" textLength="61">RIT_ENC_B</text>
<path class="L" d="M367.9 1674h15V1590.8l-7.5-5l-7.5 5z"/><text class="v l" x="-1672" y="379.4" textLength="79">VFO_STEP_UP</text>
<path class="L" d="M383.3 1674h15V1590.8l-7.5-5l-7.5 5z"/><text class="v l" x="-1672" y="394.8" textLength="79">VFO_STEP_DN</text>
<path class="L" d="M399.9 1648.4h15V1590.8l-7.5-5l-7.5 5z"/><text class="v l" x="-1646.4" y="411.4" textLength="54">SDI_MOSI</text>
<path class="L" d="M416.1 1653.4h15V1590.8l-7.5-5l-7.5 5z"/><text class="v l" x="-1651.4" y="427.6" textLength="59">SDO_MISO</text>
</g>
<g id="GND-U1"><path class="p" d="M481 1665.8H491.7"/><path class="bar" d="M491.7 1657.4V1674.5"/><text class="v n m" x="-1665" y="509">GNDD</text></g>

<g id="U2"><rect class="o" x="618.7" y="1365.7" width="243.6" height="138.6"/>
<path class="p" d="M634 1504.3V1519.3M650.7 1504.3V1519.3M667 1504.3V1519.3M684 1504.3V1519.3M699.3 1504.3V1519.3M716 1504.3V1519.3M732 1504.3V1519.3M749 1504.3V1519.3M764.3 1504.3V1519.3M780.7 1504.3V1520M797 1504.3V1520M813.3 1504.3V1520M829.7 1504.3V1520M846 1504.3V1520M707.3 1349.3V1365.7M723.7 1349.3V1365.7M740 1349.3V1365.7M756.7 1349.3V1365.7"/>
<use href="#nc" xlink:href="#nc" x="780.7" y="1520.3"/><use href="#nc" xlink:href="#nc" x="797" y="1520.3"/><use href="#nc" xlink:href="#nc" x="813.3" y="1520.3"/><use href="#nc" xlink:href="#nc" x="829.7" y="1520.3"/><use href="#nc" xlink:href="#nc" x="846" y="1520.3"/><use href="#nc" xlink:href="#nc" x="707.3" y="1349.3"/><use href="#nc" xlink:href="#nc" x="723.7" y="1349.3"/><use href="#nc" xlink:href="#nc" x="740" y="1349.3"/><use href="#nc" xlink:href="#nc" x="756.7" y="1349.3"/>
<text class="v n" x="-1496.7" y="639">VCC</text><text class="v n" x="-1496.7" y="655.7">GND</text><text class="v n" x="-1496.7" y="672">CS</text><text class="v n" x="-1496.7" y="689">RESET</text><text class="v n" x="-1496.7" y="704.3">DC</text><text class="v n" x="-1496.7" y="721">SDI_MOSI</text><text class="v n" x="-1496.7" y="737">SCK</text><text class="v n" x="-1496.7" y="754">LED</text><text class="v n" x="-1496.7" y="769.3">SDO_MISO</text><text class="v n" x="-1496.7" y="785.7">T_CLK</text><text class="v n" x="-1496.7" y="802">T_CS</text><text class="v n" x="-1496.7" y="818.3">T_DIN</text><text class="v n" x="-1496.7" y="834.7">T_DO</text><text class="v n" x="-1496.7" y="851">T_IRQ</text>
<text class="v n e" x="-1373.3" y="711.7">SD_CS</text><text class="v n e" x="-1373.3" y="728.1">SD_MOSI</text><text class="v n e" x="-1373.3" y="744.4">SD_MISO</text><text class="v n e" x="-1373.3" y="761.1">SD_SCK</text>
<text class="v d m" x="-1511.7" y="632">1</text><text class="v d m" x="-1511.7" y="648.7">2</text><text class="v d m" x="-1511.7" y="665">3</text><text class="v d m" x="-1511.7" y="682">4</text><text class="v d m" x="-1511.7" y="697.3">5</text><text class="v d m" x="-1511.7" y="714">6</text><text class="v d m" x="-1511.7" y="730">7</text><text class="v d m" x="-1511.7" y="747">8</text><text class="v d m" x="-1511.7" y="762.3">9</text><text class="v d m" x="-1511.7" y="778.7">10</text><text class="v d m" x="-1511.7" y="795">11</text><text class="v d m" x="-1511.7" y="811.3">12</text><text class="v d m" x="-1511.7" y="827.7">13</text><text class="v d m" x="-1511.7" y="844">14</text>
<text class="v d m" x="-1358.3" y="705.3">15</text><text class="v d m" x="-1358.3" y="721.7">16</text><text class="v d m" x="-1358.3" y="738">17</text><text class="v d m" x="-1358.3" y="754.7">18</text>
<text class="v t m" x="-1435" y="596.7">U2</text><text class="v t" x="-1497.7" y="611" textLength="125.4" lengthAdjust="spacingAndGlyphs">2.8_TFT_240x320_TS</text>
<path class="L" d="M626.5 1592.7h15V1558.3l-7.5-5l-7.5 5z"/><text class="v l" x="-1590.7" y="638" textLength="31">+3V3</text>
<path class="L" d="M643.2 1594h15V1558.3l-7.5-5l-7.5 5z"/><text class="v l" x="-1592" y="654.7" textLength="32">GNDD</text>
<path class="L" d="M659.5 1576h15V1558.3l-7.5-5l-7.5 5z"/><text class="v l" x="-1574" y="671" textLength="14">CS</text>
<path class="L" d="M676.5 1592.7h15V1558.3l-7.5-5l-7.5 5z"/><text class="v l" x="-1590.7" y="688" textLength="31">+3V3</text>
<path class="L" d="M691.8 1577.3h15V1558.3l-7.5-5l-7.5 5z"/><text class="v l" x="-1575.3" y="703.3" textLength="15">DC</text>
<path class="L" d="M708.5 1615h15V1558.3l-7.5-5l-7.5 5z"/><text class="v l" x="-1613" y="720" textLength="53">SDI_MOSI</text>
<path class="L" d="M724.5 1584.7h15V1558.3l-7.5-5l-7.5 5z"/><text class="v l" x="-1582.7" y="736" textLength="23">SCK</text>
<path class="L" d="M756.8 1620h15V1558.3l-7.5-5l-7.5 5z"/><text class="v l" x="-1618" y="768.3" textLength="58">SDO_MISO</text>
</g>
<g id="R1"><rect class="r" x="741.7" y="1600.7" width="13.3" height="33.3"/><text class="v n m" x="-1666.7" y="736">R1</text><text class="v n" x="-1649" y="736" textLength="30.7">100R</text><path class="L" d="M741.5 1699h15V1663.3l-7.5-5l-7.5 5z"/><text class="v l" x="-1697" y="753" textLength="31">+3V3</text></g>

<g id="S2"><use href="#encsym" xlink:href="#encsym"/>
<text class="v n" x="-895.7" y="1053.3">CH_A</text><text class="v n" x="-895.7" y="1069.3">COM</text><text class="v n" x="-895.7" y="1085.7">CH_B</text>
<text class="v d m" x="-911" y="1031">1</text><text class="v d m" x="-911" y="1046.7">A</text><text class="v d m" x="-911" y="1063.3">C</text><text class="v d m" x="-911" y="1079.3">B</text><text class="v d m" x="-911" y="1096">3</text><text class="v d m" x="-846" y="1031">2</text>
<text class="v t m" x="-879" y="994">S2</text><text class="f t" x="-1149.3" y="-776.7" textLength="169.3">PEC11R-4215F-S0024</text>
<text class="v n m" x="-989" y="1012.7">R6</text><text class="v n m" x="-985.3" y="1027.7">10K</text><text class="v n m" x="-1045.7" y="1045.7">R5</text><text class="v n m" x="-1042" y="1060">10K</text>
<text class="v n m" x="-981.3" y="1110.7">C4</text><text class="v n m" x="-974" y="1125.7">100n</text><text class="v n m" x="-1105.7" y="1110">C3</text><text class="v n m" x="-1098.3" y="1126.7">100n</text>
<path class="L" d="M936.2 1155.7h15V1111.7l-7.5-5l-7.5 5z"/><text class="v l" x="-1153.7" y="947.7" textLength="40">RIT_SW</text>
<path class="L" d="M968.5 1146h15V1111.7l-7.5-5l-7.5 5z"/><text class="v l" x="-1144" y="980" textLength="31">+3V3</text>
<path class="L" d="M1000.2 1175.7h15V1111.7l-7.5-5l-7.5 5z"/><text class="v l" x="-1173.7" y="1011.7" textLength="60">RIT_ENC_A</text>
<path class="L" d="M1073.5 1176.7h15V1111.7l-7.5-5l-7.5 5z"/><text class="v l" x="-1174.7" y="1085" textLength="61">RIT_ENC_B</text>
<path class="L" d="M1155.2 1139h15V1103.3l-7.5-5l-7.5 5z"/><text class="v l" x="-1137" y="1166.7" textLength="31">GNDD</text>
</g>

<g id="S1"><use href="#encsym" xlink:href="#encsym" y="503.3"/>
<text class="v n" x="-1399" y="1053.3">CH_A</text><text class="v n" x="-1399" y="1069.3">COM</text><text class="v n" x="-1399" y="1085.7">CH_B</text>
<text class="v d m" x="-1414.3" y="1031">1</text><text class="v d m" x="-1414.3" y="1046.7">A</text><text class="v d m" x="-1414.3" y="1063.3">C</text><text class="v d m" x="-1414.3" y="1079.3">B</text><text class="v d m" x="-1414.3" y="1096">3</text><text class="v d m" x="-1349.3" y="1031">2</text>
<text class="v t m" x="-1382.3" y="994">S1</text><text class="f t" x="-1157.3" y="-1280" textLength="170">PEC11R-4215F-S0024</text>
<text class="v n m" x="-1492.3" y="1012.7">R3</text><text class="v n m" x="-1488.6" y="1027.7">10K</text><text class="v n m" x="-1549" y="1045.7">R2</text><text class="v n m" x="-1545.3" y="1060">10K</text>
<text class="v n m" x="-1484.6" y="1110.7">C2</text><text class="v n m" x="-1477.3" y="1125.7">100n</text><text class="v n m" x="-1609" y="1110">C1</text><text class="v n m" x="-1601.6" y="1126.7">100n</text>
<path class="L" d="M936.2 1662.3h15V1615l-7.5-5l-7.5 5z"/><text class="v l" x="-1660.3" y="947.7" textLength="44">VFO_SW</text>
<path class="L" d="M968.5 1649.3h15V1615l-7.5-5l-7.5 5z"/><text class="v l" x="-1647.3" y="980" textLength="31">+3V3</text>
<path class="L" d="M1000.2 1683.3h15V1615l-7.5-5l-7.5 5z"/><text class="v l" x="-1681.3" y="1011.7" textLength="65">VFO_ENC_A</text>
<path class="L" d="M1073.5 1684h15V1615l-7.5-5l-7.5 5z"/><text class="v l" x="-1682" y="1085" textLength="66">VFO_ENC_B</text>
<path class="L" d="M1155.2 1642.3h15V1606.7l-7.5-5l-7.5 5z"/><text class="v l" x="-1640.3" y="1166.7" textLength="31">GNDD</text>
</g>
</g>
</svg>
